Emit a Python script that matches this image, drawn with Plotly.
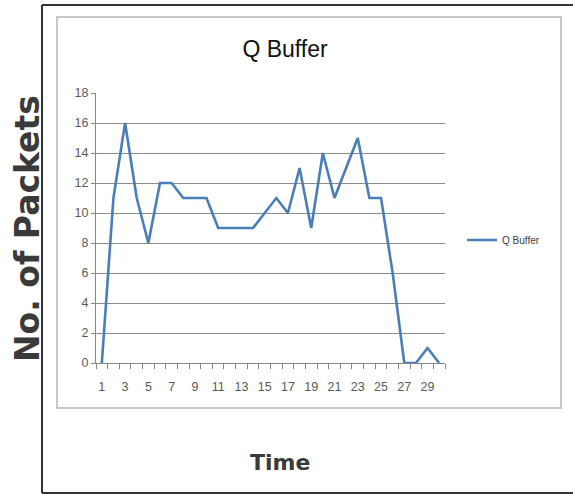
import plotly.graph_objects as go

# Queue occupancy per time step
time_steps = list(range(1, 31))
q_buffer = [0, 11, 16, 11, 8, 12, 12, 11, 11, 11,
            9, 9, 9, 9, 10, 11, 10, 13, 9, 14,
            11, 13, 15, 11, 11, 6, 0, 0, 1, 0]
x_tick_labels = [str(t) for t in time_steps if t % 2 == 1]
y_ticks = list(range(0, 19, 2))

W, H = 573, 494
L, R, T, B = 96, 445, 93, 363  # plot area in pixels


def px(x):
    return (x - L) / (R - L)


def py(y):
    return (B - y) / (B - T)


fig = go.Figure()
fig.add_trace(go.Scatter(
    x=time_steps, y=q_buffer, mode="lines", name="Q Buffer",
    line=dict(color="#4a7ebb", width=2.6),
))

narrow = "Liberation Sans Narrow, Arial Narrow, sans-serif"
label_font = dict(family=narrow, size=12.5, color="#595959")

fig.update_layout(
    width=W, height=H,
    margin=dict(l=L, r=W - R, t=T, b=H - B),
    paper_bgcolor="white", plot_bgcolor="white",
    showlegend=True,
    legend=dict(x=px(462), y=py(240), xanchor="left", yanchor="middle",
                font=dict(family=narrow, size=10, color="#404040"),
                bgcolor="rgba(0,0,0,0)"),
    title=dict(text="Q Buffer", xref="container", x=285 / W, xanchor="center",
               yref="container", y=1 - 49 / H, yanchor="middle",
               font=dict(family=narrow, size=23, color="#111111")),
    xaxis=dict(
        range=[0.5, 30.5], tickvals=[t for t in time_steps if t % 2 == 1], ticktext=x_tick_labels,
        ticks="", showgrid=False, zeroline=False,
        showline=True, linecolor="#888888", linewidth=1,
        minor=dict(ticks="outside", tick0=0.5, dtick=1, ticklen=5, tickcolor="#888888", showgrid=False),
        tickfont=label_font, ticklabelstandoff=12,
    ),
    yaxis=dict(
        range=[0, 18], tickvals=y_ticks, ticks="outside", ticklen=4, tickcolor="#888888",
        showgrid=True, gridcolor="#8c8c8c", gridwidth=1, zeroline=False,
        showline=True, linecolor="#888888", linewidth=1,
        tickfont=label_font,
    ),
)

# Chart-area border and outer frame
fig.add_shape(type="rect", xref="paper", yref="paper",
              x0=px(57), x1=px(561), y0=py(408), y1=py(17),
              line=dict(color="#c8c8c8", width=2))
frame = dict(color="#333333", width=2)
fig.add_shape(type="line", xref="paper", yref="paper", x0=px(42), x1=px(590), y0=py(5), y1=py(5), line=frame)
fig.add_shape(type="line", xref="paper", yref="paper", x0=px(42), x1=px(42), y0=py(5), y1=py(493), line=frame)
fig.add_shape(type="line", xref="paper", yref="paper", x0=px(42), x1=px(590), y0=py(493), y1=py(493), line=frame)

# Axis titles
title_font = dict(family="DejaVu Sans, Arial Black, sans-serif", color="#3a3a3a")
fig.add_annotation(text="<b>No. of Packets</b>", xref="paper", yref="paper",
                   x=px(27), y=py(229), xanchor="center", yanchor="middle",
                   textangle=-90, showarrow=False, font=dict(size=33, **title_font))
fig.add_annotation(text="<b>Time</b>", xref="paper", yref="paper",
                   x=px(280), y=py(462), xanchor="center", yanchor="middle",
                   showarrow=False, font=dict(size=22, **title_font))

fig.write_html("out.html")
